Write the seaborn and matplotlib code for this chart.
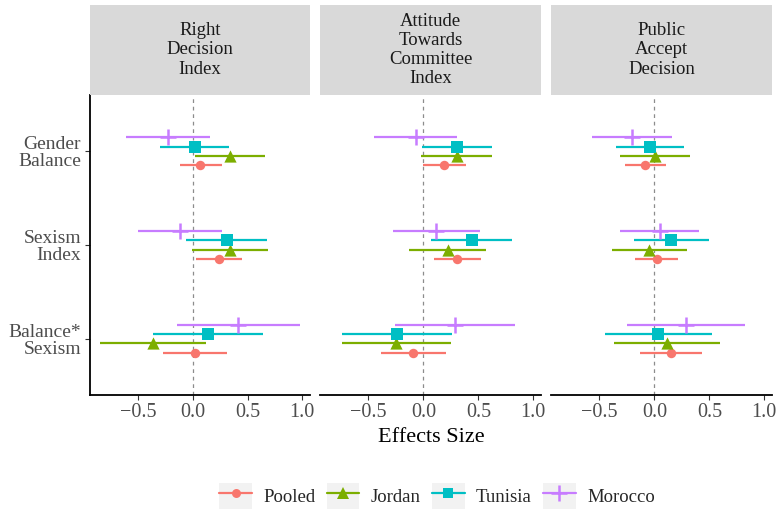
import numpy as np
import pandas as pd
import matplotlib
matplotlib.use("Agg")
import matplotlib.pyplot as plt
import seaborn as sns
from matplotlib.patches import Rectangle
from matplotlib.lines import Line2D
from matplotlib.legend_handler import HandlerTuple

# panels, terms and groups
outcomes = ["Right\nDecision\nIndex", "Attitude\nTowards\nCommittee\nIndex", "Public\nAccept\nDecision"]
terms = ["Gender\nBalance", "Sexism\nIndex", "Balance*\nSexism"]
groups = ["Pooled", "Jordan", "Tunisia", "Morocco"]
colors = ["#F8766D", "#7CAE00", "#00BFC4", "#C77CFF"]
markers = ["o", "^", "s", "+"]
msizes = [6.8, 8.8, 8.0, 12]

# estimates per outcome: rows = groups, cols = terms
est_right = [[0.067, 0.236, 0.021],
             [0.34, 0.34, -0.367],
             [0.015, 0.31, 0.142],
             [-0.227, -0.115, 0.415]]
lo_right = [[-0.12, 0.027, -0.276],
            [0.02, -0.012, -0.85],
            [-0.303, -0.064, -0.36],
            [-0.615, -0.506, -0.148]]
hi_right = [[0.264, 0.45, 0.315],
            [0.66, 0.685, 0.118],
            [0.33, 0.676, 0.64],
            [0.155, 0.27, 0.976]]

est_attitude = [[0.19, 0.31, -0.09],
                [0.303, 0.22, -0.245],
                [0.303, 0.44, -0.242],
                [-0.07, 0.118, 0.285]]
lo_attitude = [[0.0, 0.094, -0.388],
               [-0.02, -0.133, -0.736],
               [-0.015, 0.07, -0.736],
               [-0.45, -0.28, -0.26]]
hi_attitude = [[0.388, 0.52, 0.203],
               [0.624, 0.57, 0.248],
               [0.624, 0.81, 0.26],
               [0.306, 0.515, 0.83]]

est_public = [[-0.082, 0.021, 0.155],
              [0.006, -0.048, 0.115],
              [-0.04, 0.15, 0.033],
              [-0.206, 0.048, 0.288]]
lo_public = [[-0.267, -0.176, -0.127],
             [-0.312, -0.388, -0.37],
             [-0.345, -0.188, -0.448],
             [-0.567, -0.31, -0.25]]
hi_public = [[0.103, 0.218, 0.436],
             [0.324, 0.3, 0.597],
             [0.27, 0.497, 0.527],
             [0.16, 0.41, 0.827]]

xtick_vals = [-0.5, 0.0, 0.5, 1.0]
xtick_labels = ["\u22120.5", "0.0", "0.5", "1.0"]

rows = []
for outcome, est, lo, hi in zip(outcomes,
                                [est_right, est_attitude, est_public],
                                [lo_right, lo_attitude, lo_public],
                                [hi_right, hi_attitude, hi_public]):
    for gi, g in enumerate(groups):
        for ti, t in enumerate(terms):
            rows.append({"outcome": outcome, "group": g, "term": t,
                         "est": est[gi][ti], "lo": lo[gi][ti], "hi": hi[gi][ti]})
df = pd.DataFrame(rows)

# dodge: top term at y=3, groups stacked Pooled (low) .. Morocco (high)
df["ypos"] = (len(terms) - df["term"].map({t: i for i, t in enumerate(terms)})
              + df["group"].map({g: (i - 1.5) * 0.1 for i, g in enumerate(groups)}))

sns.set_theme(style="white")
plt.rcParams["font.family"] = ["Liberation Serif", "DejaVu Serif"]

W, H = 783, 514
fig = plt.figure(figsize=(W / 100, H / 100), dpi=100)
lefts = [90, 320, 551]
widths = [220, 221, 221]
ax_top, ax_bot = 95, 395

for k, outcome in enumerate(outcomes):
    ax = fig.add_axes([lefts[k] / W, 1 - ax_bot / H, widths[k] / W, (ax_bot - ax_top) / H])
    sub = df[df["outcome"] == outcome]
    ax.axvline(0, color="#8C8C8C", lw=0.9, ls=(0, (3, 3)), zorder=0)
    for g, c, m, ms in zip(groups, colors, markers, msizes):
        gd = sub[sub["group"] == g]
        ax.hlines(gd["ypos"], gd["lo"], gd["hi"], color=c, lw=1.6, zorder=2)
        if m == "+":
            sns.scatterplot(data=gd, x="est", y="ypos", marker=m, color=c, s=ms ** 2,
                            linewidth=1.8, ax=ax, zorder=3, legend=False)
        else:
            sns.scatterplot(data=gd, x="est", y="ypos", marker=m, color=c, s=ms ** 2,
                            linewidth=0, ax=ax, zorder=3, legend=False)
    ax.set_xlim(-0.94, 1.07)
    ax.set_ylim(0.4, 3.6)
    ax.set_xticks(xtick_vals)
    ax.set_xticklabels(xtick_labels)
    ax.set_xlabel("")
    ax.set_ylabel("")
    for s in ["top", "right"]:
        ax.spines[s].set_visible(False)
    ax.spines["bottom"].set_color("black")
    ax.spines["bottom"].set_linewidth(1.3)
    if k == 0:
        ax.spines["left"].set_color("black")
        ax.spines["left"].set_linewidth(1.3)
        ax.set_yticks([3, 2, 1])
        ax.set_yticklabels(terms, ha="right", linespacing=1.0)
        ax.tick_params(axis="y", left=True, length=3.5, width=0.8, color="#333333",
                       labelsize=14, labelcolor="#4D4D4D", pad=3)
    else:
        ax.spines["left"].set_visible(False)
        ax.set_yticks([])
    ax.tick_params(axis="x", bottom=True, length=3.5, width=0.8, color="#333333",
                   labelsize=14.5, labelcolor="#4D4D4D", pad=2)
    ax.grid(False)
    ax.set_facecolor("white")

    # strip
    sax = fig.add_axes([lefts[k] / W, 1 - ax_top / H, widths[k] / W, 90 / H])
    sax.set_facecolor("#D9D9D9")
    sax.set_xticks([])
    sax.set_yticks([])
    for s in sax.spines.values():
        s.set_visible(False)
    sax.text(0.5, 0.5, outcome, ha="center", va="center", fontsize=13.5,
             color="#1A1A1A", linespacing=1.17, transform=sax.transAxes)

fig.text(431 / W, 1 - 437 / H, "Effects Size", ha="center", va="center",
         fontsize=16, color="black")

handles = []
for c, m, ms in zip(colors, markers, msizes):
    bg = Rectangle((0, 0), 1, 1, facecolor="#F2F2F2", edgecolor="none")
    ln = Line2D([0], [0], color=c, lw=1.6, marker=m, markersize=ms * 0.95,
                markeredgewidth=1.8 if m == "+" else 0)
    handles.append((bg, ln))
fig.legend(handles, groups, handler_map={tuple: HandlerTuple(ndivide=1, pad=0)},
           loc="center", bbox_to_anchor=(437 / W, 1 - 496 / H), ncol=4, frameon=False,
           fontsize=13.5, handlelength=1.75, handleheight=1.75, handletextpad=0.6,
           columnspacing=0.6, borderpad=0.2)

fig.savefig("out.png", dpi=100)
